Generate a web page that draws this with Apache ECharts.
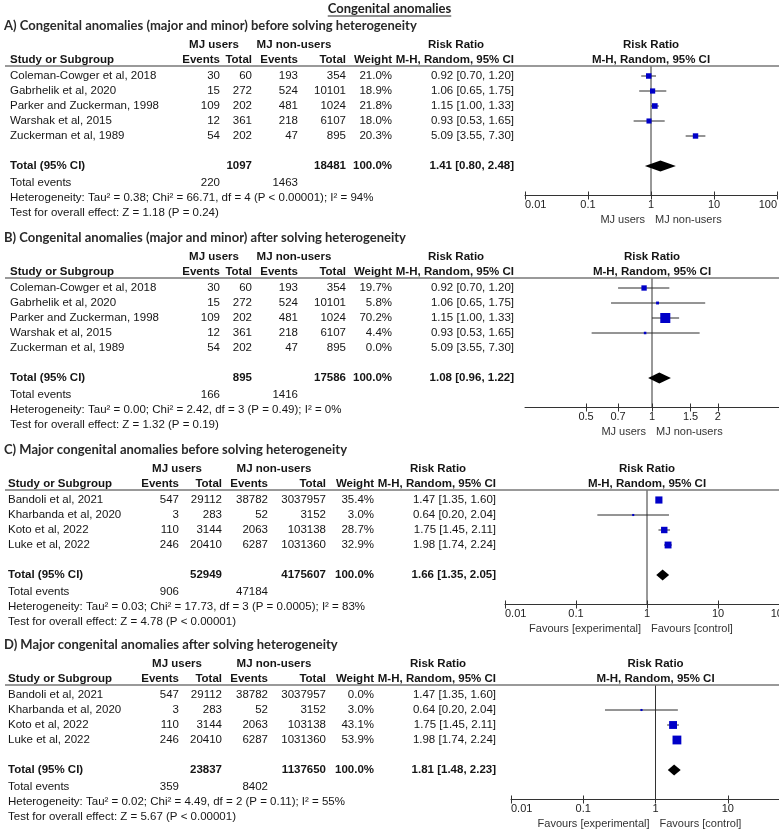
<!DOCTYPE html>
<html><head><meta charset="utf-8">
<script src="https://cdn.jsdelivr.net/npm/echarts@6/dist/echarts.min.js"></script>
<style>html,body{margin:0;padding:0;background:#fff}#c{width:779px;height:830px}</style>
</head><body><div id="c"></div>
<script>
// ---------------- data ----------------
const mainTitle = 'Congenital anomalies';
const panelTitles = [
  'A) Congenital anomalies (major and minor) before solving heterogeneity',
  'B) Congenital anomalies (major and minor) after solving heterogeneity',
  'C) Major congenital anomalies before solving heterogeneity',
  'D) Major congenital anomalies after solving heterogeneity'
];
const studiesAB = ['Coleman-Cowger et al, 2018', 'Gabrhelik et al, 2020', 'Parker and Zuckerman, 1998', 'Warshak et al, 2015', 'Zuckerman et al, 1989'];
const mjEventsAB = [30, 15, 109, 12, 54];
const mjTotalAB = [60, 272, 202, 361, 202];
const nonEventsAB = [193, 524, 481, 218, 47];
const nonTotalAB = [354, 10101, 1024, 6107, 895];
const rrAB = [0.92, 1.06, 1.15, 0.93, 5.09];
const loAB = [0.70, 0.65, 1.00, 0.53, 3.55];
const hiAB = [1.20, 1.75, 1.33, 1.65, 7.30];
const weightA = [21.0, 18.9, 21.8, 18.0, 20.3];
const weightB = [19.7, 5.8, 70.2, 4.4, 0.0];

const studiesCD = ['Bandoli et al, 2021', 'Kharbanda et al, 2020', 'Koto et al, 2022', 'Luke et al, 2022'];
const mjEventsCD = [547, 3, 110, 246];
const mjTotalCD = [29112, 283, 3144, 20410];
const nonEventsCD = [38782, 52, 2063, 6287];
const nonTotalCD = [3037957, 3152, 103138, 1031360];
const rrCD = [1.47, 0.64, 1.75, 1.98];
const loCD = [1.35, 0.20, 1.45, 1.74];
const hiCD = [1.60, 2.04, 2.11, 2.24];
const weightC = [35.4, 3.0, 28.7, 32.9];
const weightD = [0.0, 3.0, 43.1, 53.9];

const pooledRR = [1.41, 1.08, 1.66, 1.81];
const pooledLo = [0.80, 0.96, 1.35, 1.48];
const pooledHi = [2.48, 1.22, 2.05, 2.23];
const pooledMJTotal = [1097, 895, 52949, 23837];
const pooledNonTotal = [18481, 17586, 4175607, 1137650];
const totalEventsMJ = [220, 166, 906, 359];
const totalEventsNon = [1463, 1416, 47184, 8402];
const heterogeneity = [
  'Heterogeneity: Tau\u00B2 = 0.38; Chi\u00B2 = 66.71, df = 4 (P < 0.00001); I\u00B2 = 94%',
  'Heterogeneity: Tau\u00B2 = 0.00; Chi\u00B2 = 2.42, df = 3 (P = 0.49); I\u00B2 = 0%',
  'Heterogeneity: Tau\u00B2 = 0.03; Chi\u00B2 = 17.73, df = 3 (P = 0.0005); I\u00B2 = 83%',
  'Heterogeneity: Tau\u00B2 = 0.02; Chi\u00B2 = 4.49, df = 2 (P = 0.11); I\u00B2 = 55%'
];
const overallEffect = [
  'Test for overall effect: Z = 1.18 (P = 0.24)',
  'Test for overall effect: Z = 1.32 (P = 0.19)',
  'Test for overall effect: Z = 4.78 (P < 0.00001)',
  'Test for overall effect: Z = 5.67 (P < 0.00001)'
];
const tickValuesWide = [0.01, 0.1, 1, 10, 100];
const tickLabelsWide = ['0.01', '0.1', '1', '10', '100'];
const tickValuesNarrow = [0.5, 0.7, 1, 1.5, 2];
const tickLabelsNarrow = ['0.5', '0.7', '1', '1.5', '2'];
const favourLabelsAB = ['MJ users', 'MJ non-users'];
const favourLabelsCD = ['Favours [experimental]', 'Favours [control]'];
const nullRR = 1;

// ---------------- layout / style ----------------
const FONT = '"Liberation Sans", Arial, sans-serif';
const TITLE_FONT = 'Lato, "Open Sans", sans-serif';
const TXT = '#151515';
const SQUARE = '#0000c8';
const RH = 15;
const colsAB = {study: 10, ev: 220, tot: 252, nev: 298, ntot: 346, w: 392, rr: 514, mjC: 214, nonC: 294, rrC: 456};
const colsCD = {study: 8, ev: 179, tot: 222, nev: 268, ntot: 326, w: 374, rr: 496, mjC: 177, nonC: 274, rrC: 438};

const panels = [
  {T: 26, studies: studiesAB, ev: mjEventsAB, tot: mjTotalAB, nev: nonEventsAB, ntot: nonTotalAB, rr: rrAB, lo: loAB, hi: hiAB, w: weightA, cols: colsAB,
   ax: {left: 525, width: 252, min: -2, max: 2}, tv: tickValuesWide, tl: tickLabelsWide, edge: true, fav: favourLabelsAB},
  {T: 238, studies: studiesAB, ev: mjEventsAB, tot: mjTotalAB, nev: nonEventsAB, ntot: nonTotalAB, rr: rrAB, lo: loAB, hi: hiAB, w: weightB, cols: colsAB,
   ax: {left: 525, width: 254, min: -0.58, max: 0.58}, tv: tickValuesNarrow, tl: tickLabelsNarrow, edge: false, fav: favourLabelsAB},
  {T: 450, studies: studiesCD, ev: mjEventsCD, tot: mjTotalCD, nev: nonEventsCD, ntot: nonTotalCD, rr: rrCD, lo: loCD, hi: hiCD, w: weightC, cols: colsCD,
   ax: {left: 505, width: 284, min: -2, max: 2}, tv: tickValuesWide, tl: tickLabelsWide, edge: true, fav: favourLabelsCD},
  {T: 645, studies: studiesCD, ev: mjEventsCD, tot: mjTotalCD, nev: nonEventsCD, ntot: nonTotalCD, rr: rrCD, lo: loCD, hi: hiCD, w: weightD, cols: colsCD,
   ax: {left: 511, width: 289, min: -2, max: 2}, tv: tickValuesWide, tl: tickLabelsWide, edge: true, fav: favourLabelsCD}
];

const graphics = [];
function txt(x, y, s, opt) {
  opt = opt || {};
  const al = opt.align || 'left';
  graphics.push({type: 'text', x: x, y: y, silent: true, z: 10,
    style: {text: String(s), fill: opt.color || TXT,
      font: (opt.bold ? 'bold ' : '') + (opt.size || 11.5) + 'px ' + (opt.family || FONT),
      textAlign: al, align: al, textVerticalAlign: 'middle', verticalAlign: 'middle'}});
}
function hline(x1, x2, y, color, w) {
  graphics.push({type: 'line', silent: true, z: 10, shape: {x1: x1, y1: y, x2: x2, y2: y}, style: {stroke: color, lineWidth: w}});
}
const measureCtx = document.createElement('canvas').getContext('2d');
function textWidth(s, font) { measureCtx.font = font; return measureCtx.measureText(s).width; }

const fmtRR = (r, l, h) => r.toFixed(2) + ' [' + l.toFixed(2) + ', ' + h.toFixed(2) + ']';
const lg = v => Math.log10(v);

// main title
txt(389.5, 8.5, mainTitle, {bold: true, size: 13, family: TITLE_FONT, align: 'center', color: '#222'});
const mtw = textWidth(mainTitle, 'bold 13px ' + TITLE_FONT);
hline(389.5 - mtw / 2, 389.5 + mtw / 2, 16, '#222', 1);

const grids = [], xAxes = [], yAxes = [], series = [];

function studyRender(params, api) {
  const w = api.value(4);
  if (!(w > 0)) return;
  const row = api.value(0);
  const c = api.coord([api.value(1), row]);
  const a = api.coord([api.value(2), row]);
  const b = api.coord([api.value(3), row]);
  const s = Math.max(2, 1.2 * Math.sqrt(w));
  return {type: 'group', children: [
    {type: 'line', shape: {x1: a[0], y1: a[1], x2: b[0], y2: b[1]}, style: {stroke: '#2a2a2a', lineWidth: 1}},
    {type: 'rect', shape: {x: c[0] - s / 2, y: c[1] - s / 2, width: s, height: s}, style: {fill: SQUARE}}
  ]};
}
function pooledRender(params, api) {
  const row = api.value(0);
  const c = api.coord([api.value(1), row]);
  const a = api.coord([api.value(2), row]);
  const b = api.coord([api.value(3), row]);
  const nx = api.coord([api.value(4), row])[0];
  const cs = params.coordSys;
  const h = 5.5;
  return {type: 'group', children: [
    {type: 'line', shape: {x1: nx, y1: cs.y, x2: nx, y2: cs.y + cs.height}, style: {stroke: '#333', lineWidth: 1}},
    {type: 'polygon', shape: {points: [[a[0], a[1]], [c[0], c[1] - h], [b[0], b[1]], [c[0], c[1] + h]]}, style: {fill: '#000'}}
  ]};
}

panels.forEach(function (p, k) {
  const c = p.cols, n = p.studies.length;
  const hdr1 = p.T + 18.5, hdr2 = p.T + 33.5, lineY = p.T + 40, row0 = p.T + 50;
  const totY = row0 + RH * (n + 1), evY = totY + 17, hetY = evY + 15, testY = hetY + 15;
  const axisY = totY + 29.5;
  const nullX = p.ax.left + p.ax.width * (lg(nullRR) - p.ax.min) / (p.ax.max - p.ax.min);

  txt(4, p.T, panelTitles[k], {bold: true, size: 13, family: TITLE_FONT, color: '#2a2a2a'});
  // header
  txt(c.mjC, hdr1, 'MJ users', {bold: true, align: 'center'});
  txt(c.nonC, hdr1, 'MJ non-users', {bold: true, align: 'center'});
  txt(c.rrC, hdr1, 'Risk Ratio', {bold: true, align: 'center'});
  txt(nullX, hdr1, 'Risk Ratio', {bold: true, align: 'center'});
  txt(c.study, hdr2, 'Study or Subgroup', {bold: true});
  txt(c.ev, hdr2, 'Events', {bold: true, align: 'right'});
  txt(c.tot, hdr2, 'Total', {bold: true, align: 'right'});
  txt(c.nev, hdr2, 'Events', {bold: true, align: 'right'});
  txt(c.ntot, hdr2, 'Total', {bold: true, align: 'right'});
  txt(c.w, hdr2, 'Weight', {bold: true, align: 'right'});
  txt(c.rr, hdr2, 'M-H, Random, 95% CI', {bold: true, align: 'right'});
  txt(nullX, hdr2, 'M-H, Random, 95% CI', {bold: true, align: 'center'});
  hline(5, 779, lineY, '#777', 1.5);
  // study rows
  for (let i = 0; i < n; i++) {
    const y = row0 + RH * i;
    txt(c.study, y, p.studies[i]);
    txt(c.ev, y, p.ev[i], {align: 'right'});
    txt(c.tot, y, p.tot[i], {align: 'right'});
    txt(c.nev, y, p.nev[i], {align: 'right'});
    txt(c.ntot, y, p.ntot[i], {align: 'right'});
    txt(c.w, y, p.w[i].toFixed(1) + '%', {align: 'right'});
    txt(c.rr, y, fmtRR(p.rr[i], p.lo[i], p.hi[i]), {align: 'right'});
  }
  // totals
  const wsum = p.w.reduce((s, v) => s + v, 0);
  txt(c.study, totY, 'Total (95% CI)', {bold: true});
  txt(c.tot, totY, pooledMJTotal[k], {bold: true, align: 'right'});
  txt(c.ntot, totY, pooledNonTotal[k], {bold: true, align: 'right'});
  txt(c.w, totY, (Math.round(wsum / 10) * 10).toFixed(1) + '%', {bold: true, align: 'right'});
  txt(c.rr, totY, fmtRR(pooledRR[k], pooledLo[k], pooledHi[k]), {bold: true, align: 'right'});
  txt(c.study, evY, 'Total events');
  txt(c.ev, evY, totalEventsMJ[k], {align: 'right'});
  txt(c.nev, evY, totalEventsNon[k], {align: 'right'});
  txt(c.study, hetY, heterogeneity[k]);
  txt(c.study, testY, overallEffect[k]);
  // favour labels
  txt(nullX - 6, axisY + 24, p.fav[0], {align: 'right', size: 11, color: '#333'});
  txt(nullX + 4, axisY + 24, p.fav[1], {align: 'left', size: 11, color: '#333'});

  // chart
  grids.push({left: p.ax.left, width: p.ax.width, top: lineY, height: axisY - lineY, containLabel: false, outerBoundsMode: 'none'});
  const ymin = -(row0 - lineY) / RH;
  yAxes.push({gridIndex: k, type: 'value', inverse: true, min: ymin, max: ymin + (axisY - lineY) / RH, show: false});
  const logs = p.tv.map(lg);
  const labels = p.tl;
  const fmt = function (v) { const i = logs.findIndex(l => Math.abs(l - v) < 1e-6); return i >= 0 ? labels[i] : ''; };
  xAxes.push({gridIndex: k, type: 'value', position: 'bottom', min: p.ax.min, max: p.ax.max,
    axisLine: {show: true, onZero: false, lineStyle: {color: '#333', width: 1}},
    axisTick: {show: true, inside: false, length: 4, customValues: logs, lineStyle: {color: '#333', width: 1}},
    axisLabel: {show: true, customValues: logs, formatter: fmt, margin: 4, fontSize: 11, fontFamily: FONT, color: '#222',
      alignMinLabel: p.edge ? 'left' : 'center', alignMaxLabel: p.edge ? 'right' : 'center', hideOverlap: false},
    splitLine: {show: false}});
  xAxes.push({gridIndex: k, type: 'value', position: 'bottom', min: p.ax.min, max: p.ax.max,
    axisLine: {show: false, onZero: false},
    axisTick: {show: true, inside: true, length: 4, customValues: logs, lineStyle: {color: '#333', width: 1}},
    axisLabel: {show: false}, splitLine: {show: false}});

  series.push({type: 'custom', xAxisIndex: 2 * k, yAxisIndex: k, renderItem: pooledRender, clip: false, silent: true,
    data: [[n + 1, lg(pooledRR[k]), lg(pooledLo[k]), lg(pooledHi[k]), lg(nullRR)]]});
  const rows = p.studies.map((s, i) => [i, lg(p.rr[i]), lg(p.lo[i]), lg(p.hi[i]), p.w[i]]);
  series.push({type: 'custom', xAxisIndex: 2 * k, yAxisIndex: k, renderItem: studyRender, clip: false, silent: true, data: rows});
});

const chart = echarts.init(document.getElementById('c'), null, {renderer: 'canvas'});
chart.setOption({
  animation: false,
  backgroundColor: '#fff',
  grid: grids,
  xAxis: xAxes,
  yAxis: yAxes,
  series: series,
  graphic: {elements: graphics}
});
</script>
</body></html>
